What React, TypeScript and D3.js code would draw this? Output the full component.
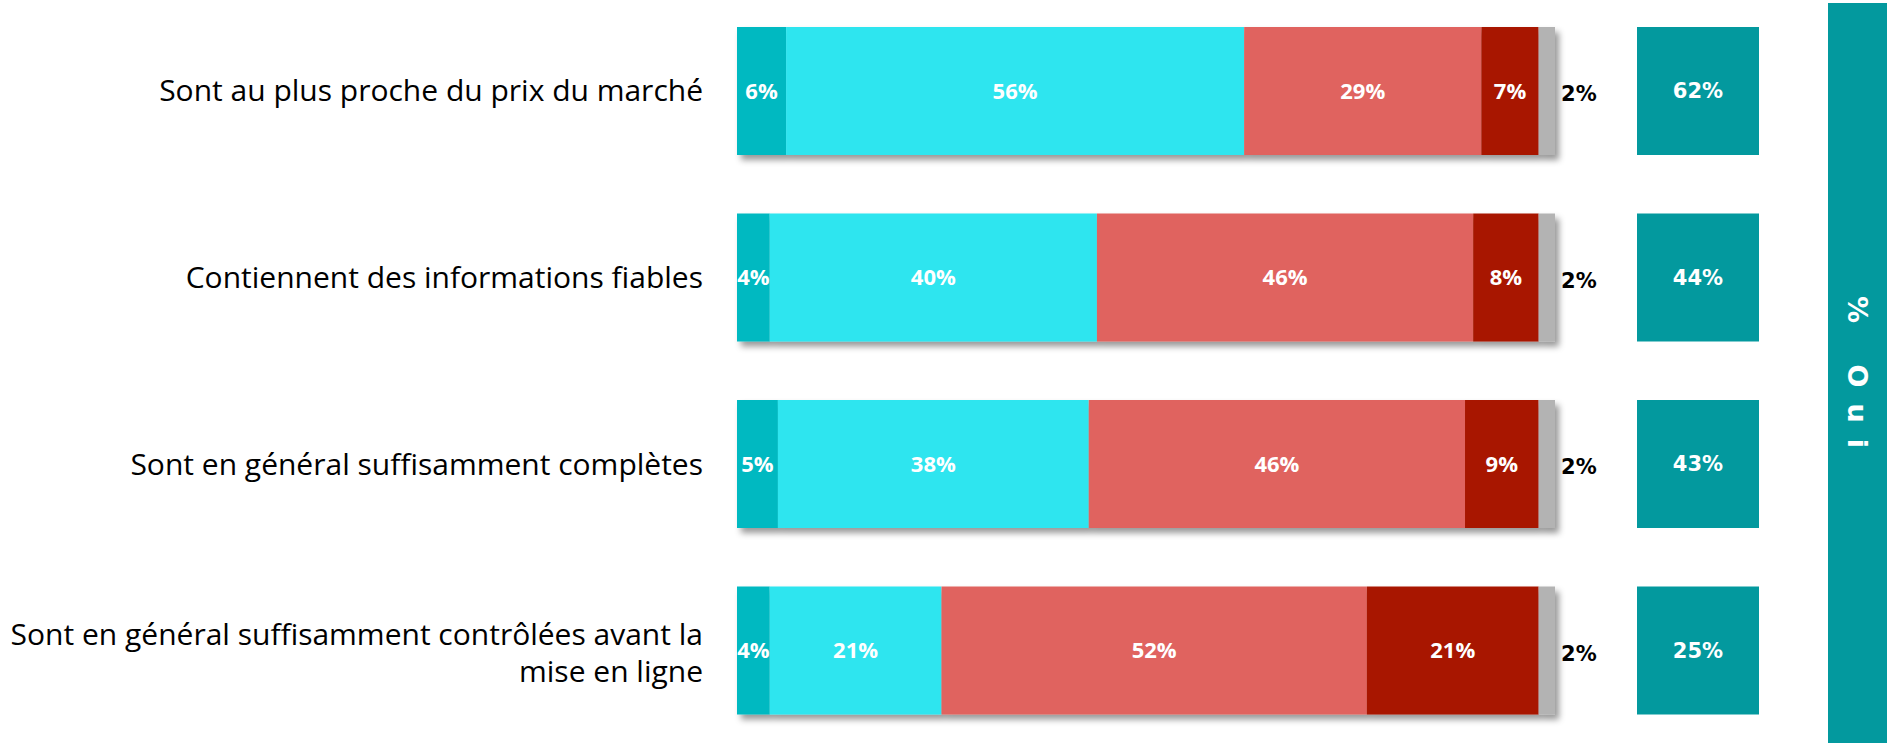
import React from "react";
import * as d3 from "d3";

const width = 1893;
const height = 743;

const categories = [
  "Sont au plus proche du prix du marché",
  "Contiennent des informations fiables",
  "Sont en général suffisamment complètes",
  "Sont en général suffisamment contrôlées avant la\nmise en ligne",
];

// stacked series, left to right
const toutAFait = [6, 4, 5, 4];
const plutot = [56, 40, 38, 21];
const plutotPas = [29, 46, 46, 52];
const pasDuTout = [7, 8, 9, 21];
const nsp = [2, 2, 2, 2];
const totalOui = [62, 44, 43, 25];

const seriesKeys = ["toutAFait", "plutot", "plutotPas", "pasDuTout", "nsp"];
const seriesColors = ["#00B9C1", "#2FE5EF", "#E0645E", "#A81500", "#B3B3B3"];
const sideTitle = "% Oui";

const rows = categories.map((c, i) => ({
  cat: c,
  toutAFait: toutAFait[i],
  plutot: plutot[i],
  plutotPas: plutotPas[i],
  pasDuTout: pasDuTout[i],
  nsp: nsp[i],
}));

const stack = d3.stack<any>().keys(seriesKeys);
const stacked = stack(rows);

const x = d3.scaleLinear().domain([0, 100]).range([737, 1555]);
const y = d3
  .scaleBand()
  .domain(categories)
  .range([27, 714.5])
  .paddingInner(0.3137)
  .paddingOuter(0);

const ouiX = 1637;
const ouiW = 122;

export default function App() {
  const bw = y.bandwidth();
  return (
    <div style={{ position: "absolute", left: 0, top: 0 }}>
      <svg width={width} height={height} style={{ display: "block" }}>
        <defs>
          <filter id="shadow" x="-5%" y="-20%" width="110%" height="150%">
            <feDropShadow dx="4" dy="5" stdDeviation="3" floodColor="#000" floodOpacity="0.4" />
          </filter>
        </defs>
        <rect width={width} height={height} fill="#fff" />

        {/* category labels */}
        {categories.map((c) => {
          const lines = c.split("\n");
          const cy = (y(c) as number) + bw / 2;
          const lh = 37;
          return (
            <text
              key={c}
              x={703}
              y={cy - ((lines.length - 1) * lh) / 2 + (lines.length > 1 ? 2 : 0)}
              textAnchor="end"
              fontFamily="'Open Sans', sans-serif"
              fontSize={30}
              fill="#000"
            >
              {lines.map((l, j) => (
                <tspan key={j} x={703} dy={j === 0 ? "0.35em" : lh}>
                  {l}
                </tspan>
              ))}
            </text>
          );
        })}

        {/* stacked bars */}
        {categories.map((c, i) => (
          <g key={c} filter="url(#shadow)">
            {stacked.map((s, k) => (
              <rect
                key={s.key}
                x={x(s[i][0])}
                y={y(c)}
                width={x(s[i][1]) - x(s[i][0])}
                height={bw}
                fill={seriesColors[k]}
              />
            ))}
          </g>
        ))}

        {/* segment labels */}
        {categories.map((c, i) =>
          stacked.map((s, k) => {
            const v = s[i][1] - s[i][0];
            const cy = (y(c) as number) + bw / 2;
            if (s.key === "nsp") {
              return (
                <text
                  key={c + s.key}
                  x={x(s[i][1]) + 6}
                  y={cy + 3}
                  dy="0.35em"
                  fontFamily="'DejaVu Sans', sans-serif"
                  fontWeight="bold"
                  fontSize={21}
                  fill="#000"
                >
                  {v}%
                </text>
              );
            }
            return (
              <text
                key={c + s.key}
                x={(x(s[i][0]) + x(s[i][1])) / 2}
                y={cy}
                dy="0.35em"
                textAnchor="middle"
                fontFamily="'Open Sans', sans-serif"
                fontWeight="bold"
                fontSize={22}
                fill="#fff"
              >
                {v}%
              </text>
            );
          })
        )}

        {/* total oui boxes */}
        {categories.map((c, i) => (
          <g key={"oui" + c}>
            <rect x={ouiX} y={y(c)} width={ouiW} height={bw} fill="#03999E" />
            <text
              x={ouiX + ouiW / 2}
              y={(y(c) as number) + bw / 2}
              dy="0.35em"
              textAnchor="middle"
              fontFamily="'DejaVu Sans', sans-serif"
              fontWeight="bold"
              fontSize={21}
              fill="#fff"
            >
              {totalOui[i]}%
            </text>
          </g>
        ))}

        {/* side title */}
        <rect x={1828} y={3} width={59} height={height} fill="#03999E" />
        <text
          transform={`translate(1857,380) rotate(90)`}
          textAnchor="middle"
          dy="0.35em"
          fontFamily="'DejaVu Sans', sans-serif"
          fontWeight="bold"
          fontSize={27}
          letterSpacing={16}
          fill="#fff"
        >
          {sideTitle}
        </text>
      </svg>
    </div>
  );
}
